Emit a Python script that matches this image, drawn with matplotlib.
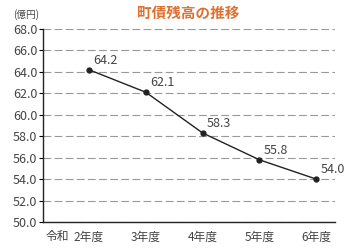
import matplotlib.pyplot as plt

plt.rcParams['font.family'] = ['Noto Sans CJK JP', 'DejaVu Sans']

# 町債残高 (億円)
years = ['2年度', '3年度', '4年度', '5年度', '6年度']
values = [64.2, 62.1, 58.3, 55.8, 54.0]
yticks = [50, 52, 54, 56, 58, 60, 62, 64, 66, 68]

fig = plt.figure(figsize=(3.58, 2.49), dpi=100)
ax = fig.add_axes([43/358, 1-222/249, 292/358, 193/249])

x = list(range(len(years)))
ax.plot(x, values, color='#222222', lw=1.0, marker='o', ms=3.5, zorder=3)
for i, v in enumerate(values):
    ax.annotate(f'{v:.1f}', (i, v), xytext=(3, 2), textcoords='offset points',
                fontsize=9, color='#444444', ha='left', va='bottom')

ax.set_xlim(-0.81, 4.33)
ax.set_ylim(50, 68)
ax.set_yticks(yticks)
ax.set_yticklabels([f'{t:.1f}' for t in yticks], fontsize=9, color='#444444')
ax.set_xticks(x)
ax.set_xticklabels(years, fontsize=8.5, color='#444444')
ax.tick_params(axis='x', length=0, pad=6)
ax.tick_params(axis='y', length=3, width=0.8, pad=1)
ax.grid(axis='y', color='#999999', ls=(0, (7, 3)), lw=0.8)
ax.set_axisbelow(True)
for s in ['top', 'right']:
    ax.spines[s].set_visible(False)
for s in ['left', 'bottom']:
    ax.spines[s].set_color('#222222')
    ax.spines[s].set_linewidth(1.0)

fig.text(46/358, 1-236/249, '令和', fontsize=8.5, color='#444444', ha='left', va='center')
fig.text(13/358, 1-15/249, '(億円)', fontsize=7, color='#444444', ha='left', va='center')
fig.text(188/358, 1-13/249, '町債残高の推移', fontsize=10.5, color='#E07030',
         fontweight='bold', ha='center', va='center')

plt.savefig('out.png', dpi=100)
